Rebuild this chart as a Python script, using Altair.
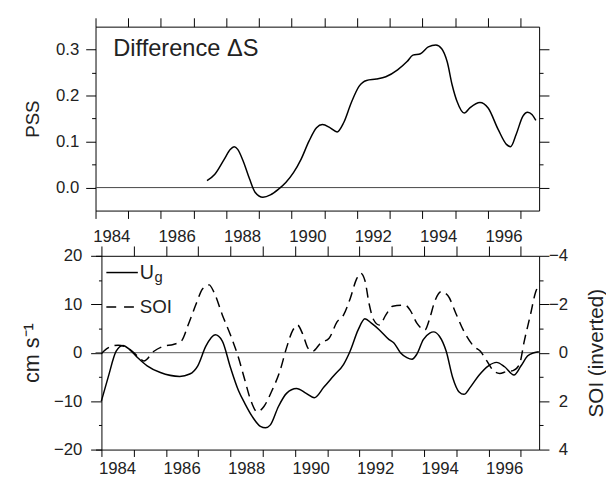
import altair as alt
import pandas as pd

# ---------------- data ----------------
ds_year = [1987.41, 1987.65, 1987.94, 1988.12, 1988.24, 1988.35, 1988.53, 1988.71, 1988.88,
           1989.12, 1989.35, 1989.59, 1989.82, 1990.06, 1990.29, 1990.53, 1990.76, 1990.94,
           1991.18, 1991.39, 1991.59, 1991.82, 1992.06, 1992.29, 1992.59, 1992.88, 1993.24,
           1993.53, 1993.71, 1993.94, 1994.18, 1994.41, 1994.59, 1994.76, 1994.91, 1995.06,
           1995.28, 1995.46, 1995.76, 1996.01, 1996.32, 1996.57, 1996.70, 1996.87, 1997.07,
           1997.22, 1997.35, 1997.47]
ds_val = [0.015, 0.029, 0.062, 0.083, 0.089, 0.083, 0.055, 0.019, -0.010,
          -0.021, -0.016, -0.004, 0.011, 0.033, 0.062, 0.101, 0.130, 0.137,
          0.130, 0.121, 0.141, 0.184, 0.220, 0.233, 0.236, 0.241, 0.256,
          0.274, 0.288, 0.291, 0.306, 0.310, 0.302, 0.273, 0.223, 0.187,
          0.162, 0.174, 0.185, 0.173, 0.126, 0.094, 0.089, 0.116, 0.155,
          0.164, 0.159, 0.146]

ug_year = [1984.0, 1984.21, 1984.46, 1984.67, 1984.87, 1985.12, 1985.42, 1985.83, 1986.43,
           1986.74, 1986.99, 1987.24, 1987.53, 1987.75, 1988.0, 1988.25, 1988.45, 1988.68,
           1988.93, 1989.09, 1989.24, 1989.49, 1989.74, 1990.05, 1990.35, 1990.6, 1990.9,
           1991.21, 1991.51, 1991.71, 1991.96, 1992.17, 1992.37, 1992.62, 1992.92, 1993.07,
           1993.27, 1993.47, 1993.63, 1993.78, 1993.98, 1994.18, 1994.3, 1994.48, 1994.69,
           1994.89, 1995.09, 1995.24, 1995.44, 1995.7, 1996.0, 1996.25, 1996.5, 1996.79,
           1997.01, 1997.21, 1997.41, 1997.56]
ug_val = [-10.0, -5.1, 0.3, 1.5, 0.7, -1.0, -2.7, -4.1, -4.9,
          -4.4, -2.7, 1.35, 3.7, 2.4, -3.0, -7.8, -10.5, -13.2,
          -15.2, -15.5, -14.9, -11.1, -8.4, -7.4, -8.4, -9.3, -7.1,
          -4.7, -2.4, 0.3, 4.7, 7.0, 6.1, 4.7, 2.7, 2.0,
          0.0, -1.0, -1.35, -0.3, 2.7, 4.05, 4.3, 3.4, 0.3,
          -5.1, -8.1, -8.6, -7.1, -4.7, -2.7, -2.0, -2.9, -4.6,
          -2.7, -0.7, 0.0, 0.2]

soi_year = [1984.0, 1984.21, 1984.52, 1984.92, 1985.17, 1985.32, 1985.63, 1985.93, 1986.23,
            1986.48, 1986.69, 1986.94, 1987.14, 1987.34, 1987.49, 1987.75, 1988.0, 1988.25,
            1988.45, 1988.63, 1988.83, 1989.04, 1989.29, 1989.54, 1989.74, 1989.94, 1990.08,
            1990.25, 1990.4, 1990.55, 1990.8, 1991.06, 1991.31, 1991.51, 1991.71, 1991.91,
            1992.04, 1992.17, 1992.3, 1992.44, 1992.62, 1992.82, 1993.03, 1993.42, 1993.57,
            1993.78, 1994.03, 1994.18, 1994.33, 1994.53, 1994.74, 1994.99, 1995.24, 1995.54,
            1995.75, 1995.95, 1996.15, 1996.35, 1996.55, 1996.76, 1996.96, 1997.11, 1997.31,
            1997.46, 1997.56]
soi_val = [0.04, -0.2, -0.31, -0.1, 0.2, 0.34, -0.06, -0.27, -0.34,
           -0.48, -1.14, -2.02, -2.64, -2.8, -2.5, -1.56, -0.74, 0.2,
           1.14, 1.96, 2.44, 2.22, 1.56, 0.74, -0.2, -0.94, -1.14,
           -0.74, -0.2, -0.06, -0.4, -0.6, -1.28, -1.56, -2.22, -3.04,
           -3.28, -2.98, -2.02, -1.36, -1.14, -1.56, -1.92, -1.96, -1.76,
           -1.22, -0.94, -1.42, -2.1, -2.52, -2.36, -1.62, -0.88, -0.27,
           -0.06, 0.34, 0.74, 0.86, 0.78, 0.74, 0.48, -0.48, -1.62,
           -2.5, -2.78]

year_ticks = list(range(1984, 1998))
pss_ticks = [0.0, 0.1, 0.2, 0.3]
pss_minor = [0.05, 0.15, 0.25]
cms_ticks = [-20, -10, 0, 10, 20]
cms_minor = [-15, -5, 5, 15]
soi_ticks = [-4, -2, 0, 2, 4]
soi_minor = [-3, -1, 1, 3]

# ---------------- styling ----------------
FONT = "Liberation Sans"
TXT = "#222222"
TOP_W, TOP_H = 451, 187
BOT_W, BOT_H = 451, 197
TOP_X = [1984, 1997.57]
BOT_X = [1983.82, 1997.57]
TOP_Y = [-0.05, 0.35]
BOT_Y = [-20, 20]


def sc(dom, rev=False):
    if rev:
        return alt.Scale(domain=dom, nice=False, zero=False, reverse=True)
    return alt.Scale(domain=dom, nice=False, zero=False)


EVEN = "datum.value % 2 == 0 ? datum.label : ''"

ds_df = pd.DataFrame({"year": ds_year, "v": ds_val})
ug_df = pd.DataFrame({"year": ug_year, "v": ug_val})
soi_df = pd.DataFrame({"year": soi_year, "v": soi_val})
zero_df = pd.DataFrame({"z": [0]})


def ticks_only(orient, values, size, domain=True, offset=0):
    return alt.Axis(orient=orient, values=values, tickSize=size, labels=False,
                    domain=domain, title=None, grid=False, offset=offset)


# ---------------- top panel ----------------
t_zero = alt.Chart(zero_df).mark_rule(color="#444444", strokeWidth=1).encode(
    y=alt.Y("z:Q", scale=sc(TOP_Y), axis=None))

t_line = alt.Chart(ds_df).mark_line(color="black", strokeWidth=1.5, interpolate="monotone").encode(
    x=alt.X("year:Q", scale=sc(TOP_X),
            axis=alt.Axis(orient="bottom", values=year_ticks, format="d", labelExpr=EVEN,
                          tickSize=8, labelOffset=16, labelPadding=10, labelFlush=False,
                          labelOverlap=False, title=None, grid=False)),
    y=alt.Y("v:Q", scale=sc(TOP_Y),
            axis=alt.Axis(orient="left", values=pss_ticks, format=".1f", tickSize=10,
                          labelPadding=7, grid=False, title="PSS", titleX=-64,
                          titleY=TOP_H / 2, titleAngle=270, titleAlign="center",
                          titleBaseline="middle", titleFontSize=19)))

t_ax2 = alt.Chart(ds_df).mark_line(opacity=0).encode(
    x=alt.X("year:Q", scale=sc(TOP_X), axis=ticks_only("top", year_ticks, 9)),
    y=alt.Y("v:Q", scale=sc(TOP_Y), axis=ticks_only("right", pss_ticks, 10)))

t_ax3 = alt.Chart(ds_df).mark_line(opacity=0).encode(
    x=alt.X("year:Q", scale=sc(TOP_X), axis=None),
    y=alt.Y("v:Q", scale=sc(TOP_Y), axis=ticks_only("left", pss_minor, 4, domain=False)))

t_ax4 = alt.Chart(ds_df).mark_line(opacity=0).encode(
    x=alt.X("year:Q", scale=sc(TOP_X), axis=None),
    y=alt.Y("v:Q", scale=sc(TOP_Y), axis=ticks_only("right", pss_minor, 4, domain=False)))

t_text = alt.Chart(pd.DataFrame({"t": ["Difference ΔS"]})).mark_text(
    align="left", baseline="alphabetic", font=FONT, fontSize=24, color=TXT).encode(
    x=alt.value(18), y=alt.value(30), text="t:N")

top = alt.layer(t_zero, t_line, t_ax2, t_ax3, t_ax4, t_text).resolve_scale(
    x="independent", y="independent").resolve_axis(
    x="independent", y="independent").properties(width=TOP_W, height=TOP_H)

# ---------------- bottom panel ----------------
b_zero = alt.Chart(zero_df).mark_rule(color="#555555", strokeWidth=1).encode(
    y=alt.Y("z:Q", scale=sc(BOT_Y), axis=None))

b_ug = alt.Chart(ug_df).mark_line(color="black", strokeWidth=1.5, interpolate="monotone").encode(
    x=alt.X("year:Q", scale=sc(BOT_X),
            axis=alt.Axis(orient="bottom", values=year_ticks, format="d", labelExpr=EVEN,
                          tickSize=7, labelOffset=16, labelPadding=4, labelFlush=False,
                          labelOverlap=False, title=None, grid=False)),
    y=alt.Y("v:Q", scale=sc(BOT_Y),
            axis=alt.Axis(orient="left", values=cms_ticks, format="d", tickSize=11, offset=-6,
                          labelPadding=9, grid=False, title="cm s⁻¹", titleX=-71,
                          titleY=BOT_H / 2, titleAngle=270, titleAlign="center",
                          titleBaseline="middle", titleFontSize=22)))

b_soi = alt.Chart(soi_df).mark_line(color="black", strokeWidth=1.5, strokeDash=[10, 6],
                                    interpolate="monotone").encode(
    x=alt.X("year:Q", scale=sc(BOT_X), axis=ticks_only("top", year_ticks, 10)),
    y=alt.Y("v:Q", scale=sc([-4, 4], rev=True),
            axis=alt.Axis(orient="right", values=soi_ticks, format="d", tickSize=10,
                          labelAlign="right", labelPadding=19, grid=False,
                          title="SOI (inverted)", titleX=58, titleY=BOT_H / 2,
                          titleAngle=270, titleAlign="center", titleBaseline="middle",
                          titleFontSize=21)))

b_ax3 = alt.Chart(ug_df).mark_line(opacity=0).encode(
    x=alt.X("year:Q", scale=sc(BOT_X), axis=None),
    y=alt.Y("v:Q", scale=sc(BOT_Y), axis=ticks_only("left", cms_minor, 3, domain=False, offset=-6)))

b_ax4 = alt.Chart(soi_df).mark_line(opacity=0).encode(
    x=alt.X("year:Q", scale=sc(BOT_X), axis=None),
    y=alt.Y("v:Q", scale=sc([-4, 4], rev=True), axis=ticks_only("right", soi_minor, 4, domain=False)))

leg_df = pd.DataFrame({"k": [1]})
leg_solid = alt.Chart(leg_df).mark_rule(color="black", strokeWidth=1.5).encode(
    x=alt.value(11), x2=alt.value(43), y=alt.value(17))
leg_dash = alt.Chart(leg_df).mark_rule(color="black", strokeWidth=1.5, strokeDash=[10, 8]).encode(
    x=alt.value(11), x2=alt.value(41), y=alt.value(52))
leg_u = alt.Chart(pd.DataFrame({"t": ["U"]})).mark_text(
    align="left", baseline="alphabetic", font=FONT, fontSize=20, color=TXT).encode(
    x=alt.value(45), y=alt.value(24), text="t:N")
leg_g = alt.Chart(pd.DataFrame({"t": ["g"]})).mark_text(
    align="left", baseline="alphabetic", font=FONT, fontSize=15, color=TXT).encode(
    x=alt.value(60), y=alt.value(27), text="t:N")
leg_soi = alt.Chart(pd.DataFrame({"t": ["SOI"]})).mark_text(
    align="left", baseline="alphabetic", font=FONT, fontSize=19, color=TXT).encode(
    x=alt.value(45), y=alt.value(58), text="t:N")

bottom = alt.layer(b_zero, b_ug, b_soi, b_ax3, b_ax4, leg_solid, leg_dash, leg_u, leg_g,
                   leg_soi).resolve_scale(x="independent", y="independent").resolve_axis(
    x="independent", y="independent").properties(width=BOT_W, height=BOT_H)

chart = alt.vconcat(top, bottom, spacing=46, bounds="flush").properties(
    padding={"left": 13, "top": 5, "right": 0, "bottom": 2}
).configure_view(stroke=None).configure_axis(
    labelFont=FONT, titleFont=FONT, labelFontSize=17, labelColor=TXT, titleColor=TXT,
    titleFontWeight="normal", tickColor="black", domainColor="black", tickWidth=1,
    domainWidth=1, grid=False)

chart.save("out.html", embed_options={"renderer": "svg", "actions": False})
